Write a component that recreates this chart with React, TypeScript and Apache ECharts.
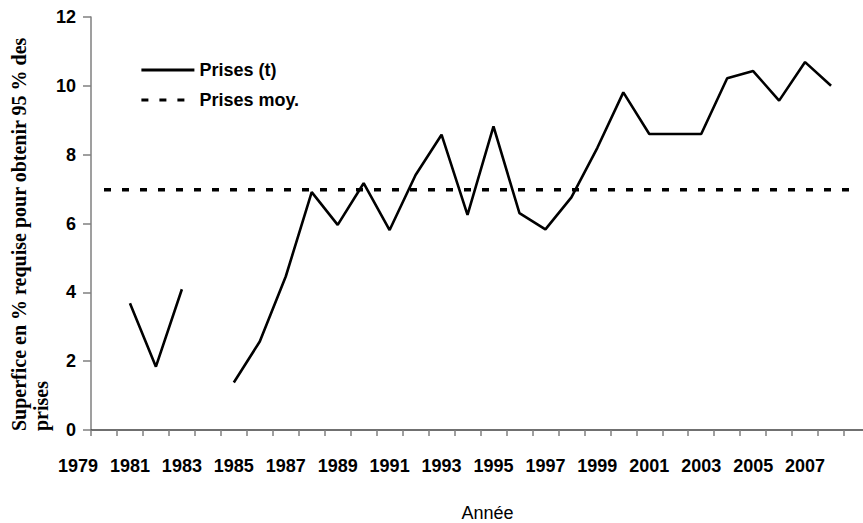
import React, { useEffect, useRef } from "react";
import * as echarts from "echarts";

const years: string[] = [
  "1980", "1981", "1982", "1983", "1984", "1985", "1986", "1987", "1988", "1989",
  "1990", "1991", "1992", "1993", "1994", "1995", "1996", "1997", "1998", "1999",
  "2000", "2001", "2002", "2003", "2004", "2005", "2006", "2007", "2008", "2009",
];
const prises: (number | null)[] = [
  null, 3.68, 1.84, 4.09, null, 1.38, 2.57, 4.46, 6.91, 5.96,
  7.17, 5.81, 7.41, 8.58, 6.25, 8.82, 6.3, 5.83, 6.76, 8.2,
  9.81, 8.6, 8.6, 8.6, 10.22, 10.43, 9.57, 10.69, 10.0, null,
];
const prisesMoyValue = 6.98;
const prisesMoy: number[] = years.map(() => prisesMoyValue);
const firstLabel = "1979";
const lastLabeledIndex = 27;
const yTicks = { min: 0, max: 12, interval: 2 };
const seriesNames = ["Prises (t)", "Prises moy."];
const yTitle = "Superfice en % requise pour obtenir 95 % des\nprises";
const xTitle = "Année";

export default function App() {
  const ref = useRef<HTMLDivElement>(null);
  useEffect(() => {
    if (!ref.current) return;
    const chart = echarts.init(ref.current, null, { renderer: "svg" });
    const axisGray = "#7f7f7f";
    chart.setOption({
      animation: false,
      backgroundColor: "#ffffff",
      grid: {
        left: 91,
        top: 17,
        bottom: 93,
        right: -7,
        containLabel: false,
        outerBoundsMode: "none",
      },
      legend: {
        orient: "vertical",
        left: 140,
        top: 61,
        padding: 0,
        itemWidth: 53,
        itemHeight: 14,
        itemGap: 12,
        itemStyle: { opacity: 0 },
        lineStyle: { width: 2.8 },
        textStyle: {
          fontFamily: "Liberation Sans, Arial, sans-serif",
          fontWeight: "bold",
          fontSize: 18,
          color: "#000",
        },
        data: seriesNames,
      },
      xAxis: {
        type: "category",
        data: years,
        boundaryGap: true,
        name: xTitle,
        nameLocation: "middle",
        nameGap: 74,
        nameTextStyle: {
          fontFamily: "Liberation Sans, Arial, sans-serif",
          fontSize: 18,
          color: "#000",
          padding: [0, 0, 0, 14],
        },
        axisLine: { show: true, lineStyle: { color: "#404040", width: 1.5 } },
        axisTick: {
          show: true,
          interval: 0,
          alignWithLabel: false,
          length: 6,
          lineStyle: { color: axisGray, width: 1.5 },
        },
        axisLabel: {
          interval: (index: number) =>
            index === 0 || (index % 2 === 1 && index <= lastLabeledIndex),
          margin: 27,
          fontFamily: "Liberation Sans, Arial, sans-serif",
          fontWeight: "bold",
          fontSize: 18,
          color: "#000",
          formatter: (value: string, index: number) =>
            index === 0 ? "{a|" + firstLabel + "}" : value,
          rich: {
            a: {
              fontFamily: "Liberation Sans, Arial, sans-serif",
              fontWeight: "bold",
              fontSize: 18,
              color: "#000",
              padding: [0, 52, 0, 0],
            },
          },
        },
        splitLine: { show: false },
      },
      yAxis: {
        type: "value",
        min: yTicks.min,
        max: yTicks.max,
        interval: yTicks.interval,
        axisLine: { show: true, lineStyle: { color: axisGray, width: 1.5 } },
        axisTick: { show: true, length: 8, lineStyle: { color: axisGray, width: 1.5 } },
        axisLabel: {
          margin: 15,
          fontFamily: "Liberation Sans, Arial, sans-serif",
          fontWeight: "bold",
          fontSize: 18,
          color: "#000",
        },
        splitLine: { show: false },
      },
      graphic: [
        {
          type: "text",
          x: 8,
          y: 431,
          rotation: Math.PI / 2,
          style: {
            text: yTitle,
            align: "left",
            verticalAlign: "top",
            font: 'bold 20px "Liberation Serif", "Times New Roman", serif',
            lineHeight: 22,
            fill: "#000",
          },
        },
      ],
      series: [
        {
          name: seriesNames[0],
          type: "line",
          data: prises,
          symbol: "none",
          connectNulls: false,
          lineStyle: { color: "#000", width: 2.6, type: "solid" },
          itemStyle: { color: "#000" },
        },
        {
          name: seriesNames[1],
          type: "line",
          data: prisesMoy,
          symbol: "none",
          lineStyle: { color: "#000", width: 3.5, type: [7, 11] },
          itemStyle: { color: "#000" },
        },
      ],
    });
    return () => chart.dispose();
  }, []);
  return (
    <div
      ref={ref}
      style={{ position: "absolute", left: 0, top: 0, width: 863, height: 523 }}
    />
  );
}
